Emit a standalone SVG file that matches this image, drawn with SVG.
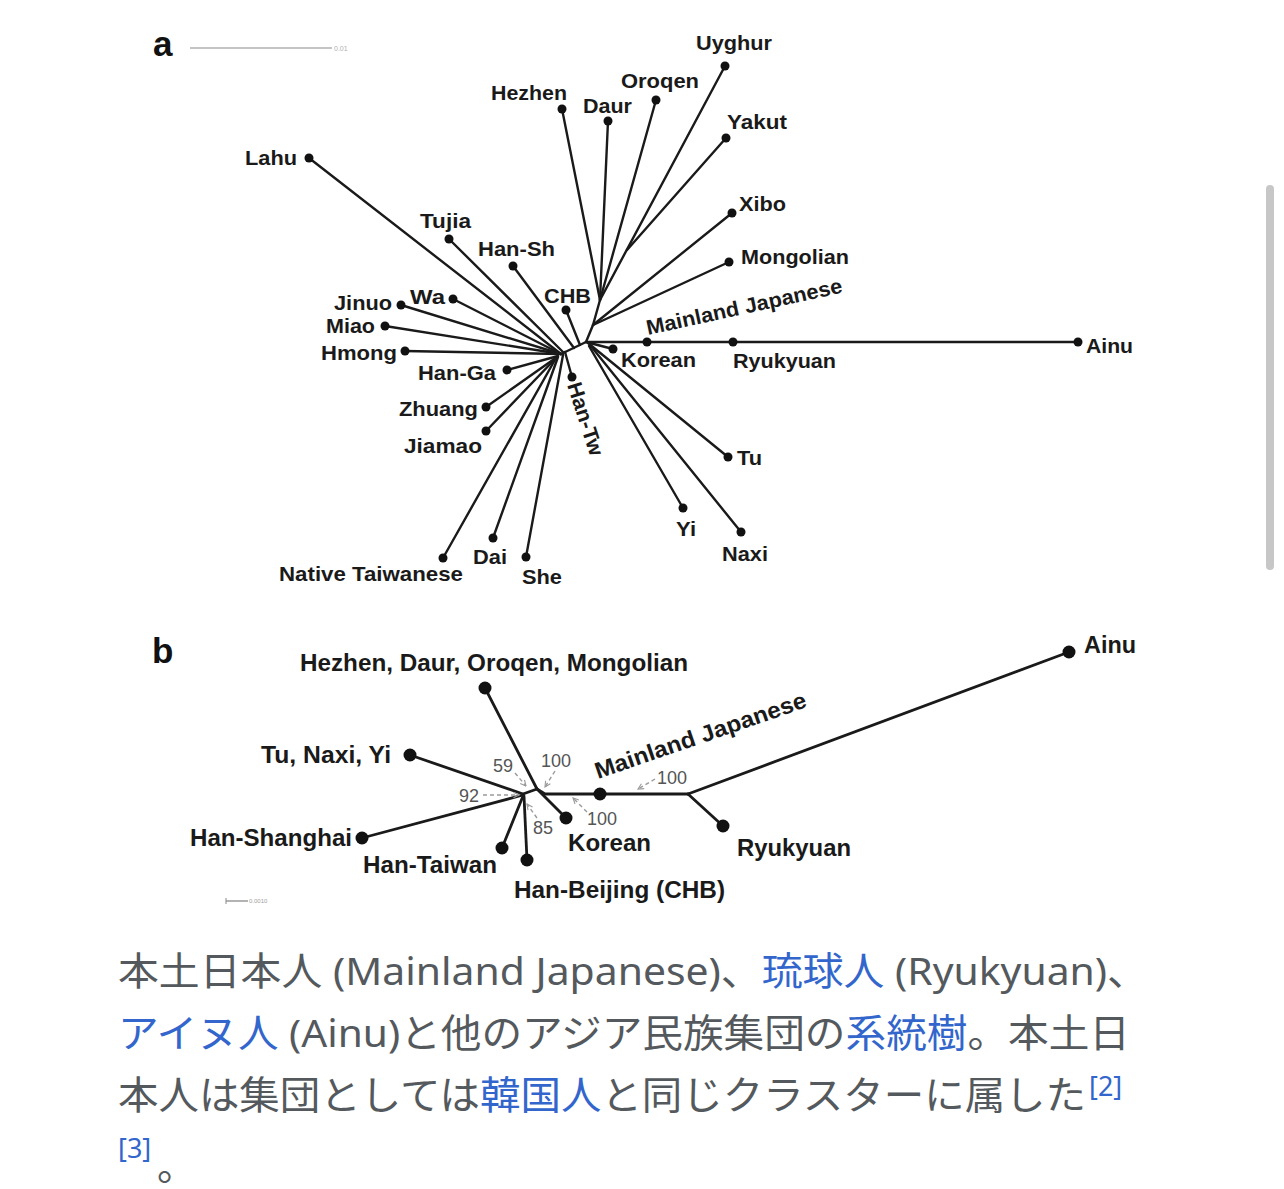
<svg xmlns="http://www.w3.org/2000/svg" width="1284" height="1189" viewBox="0 0 1284 1189">
<defs>
<style>
.ln{stroke:#1a1a1a;stroke-width:2.4;fill:none;stroke-linejoin:round;stroke-linecap:round}
.lnb{stroke:#1a1a1a;stroke-width:2.8;fill:none;stroke-linejoin:round;stroke-linecap:round}
.da{fill:#111}
.ta{font-family:"Liberation Sans",Arial,sans-serif;font-weight:bold;font-size:21px;fill:#1a1a1a}
.tb{font-family:"Liberation Sans",Arial,sans-serif;font-weight:bold;font-size:23px;fill:#1a1a1a}
.bs{font-family:"Liberation Sans",Arial,sans-serif;font-size:18px;fill:#555}
.ar{stroke:#9a9a9a;stroke-width:1.4;stroke-dasharray:4 3;fill:none}
.pl{font-family:"Liberation Sans",Arial,sans-serif;font-weight:bold;font-size:35px;fill:#111}
.cap{font-family:"Noto Sans","Noto Sans CJK JP",sans-serif;font-size:39px;fill:#54595d}
.lk{fill:#3366cc}
</style>
<marker id="ah" viewBox="0 0 10 10" refX="9" refY="5" markerWidth="7" markerHeight="7" orient="auto" markerUnits="userSpaceOnUse">
<path d="M1,1 L9,5 L1,9" fill="none" stroke="#9a9a9a" stroke-width="1.6"/>
</marker>
</defs>
<rect width="1284" height="1189" fill="#ffffff"/>
<rect x="1266" y="185" width="8" height="385" rx="4" fill="#c7c7c7"/>

<!-- Panel a -->
<text class="pl" x="153" y="56">a</text>
<g id="scale-a">
<line x1="190" y1="48" x2="332" y2="48" stroke="#c4c4c4" stroke-width="2"/>
<text x="334" y="51" font-family="Liberation Sans,Arial,sans-serif" font-size="7" fill="#b0b0b0">0.01</text>
</g>

<g id="connectors-a">
<path class="ln" d="M561,354 L586,342"/>
<path class="ln" d="M309,158 L561,354"/>
<path class="ln" d="M449,239 L563,352"/>
<path class="ln" d="M513,266 L574,348"/>
<path class="ln" d="M566,310 L580,345"/>
<path class="ln" d="M453,299 L561,354"/>
<path class="ln" d="M401,305 L561,354"/>
<path class="ln" d="M385,326 L561,354"/>
<path class="ln" d="M405,351 L561,354"/>
<path class="ln" d="M507,370 L558,356"/>
<path class="ln" d="M486,407 L557,357"/>
<path class="ln" d="M486,431 L556,358"/>
<path class="ln" d="M443,558 L556,358"/>
<path class="ln" d="M493,538 L558,357"/>
<path class="ln" d="M526,557 L563,355"/>
<path class="ln" d="M572,377 L565,352"/>
<path class="ln" d="M613,349 L586,342"/>
<path class="ln" d="M586,342 L1078,342"/>
<path class="ln" d="M728,457 L588,343"/>
<path class="ln" d="M683,508 L589,346"/>
<path class="ln" d="M741,532 L590,345"/>
<path class="ln" d="M586,342 L593,325 L600,300"/>
<path class="ln" d="M729,262 L593,325"/>
<path class="ln" d="M732,213 L593,325"/>
<path class="ln" d="M562,109 L600,300"/>
<path class="ln" d="M608,121 L600,300"/>
<path class="ln" d="M656,100 L600,300"/>
<path class="ln" d="M725,66 L600,300"/>
<path class="ln" d="M726,138 L627,250"/>
</g>

<g id="a-lahu"><circle class="da" cx="309" cy="158" r="4.5"/><text class="ta" x="245" y="165" textLength="52" lengthAdjust="spacingAndGlyphs">Lahu</text></g>
<g id="a-tujia"><circle class="da" cx="449" cy="239" r="4.5"/><text class="ta" x="420" y="228" textLength="51" lengthAdjust="spacingAndGlyphs">Tujia</text></g>
<g id="a-hansh"><circle class="da" cx="513" cy="266" r="4.5"/><text class="ta" x="478" y="256" textLength="77" lengthAdjust="spacingAndGlyphs">Han-Sh</text></g>
<g id="a-chb"><circle class="da" cx="566" cy="310" r="4.5"/><text class="ta" x="544" y="303" textLength="47" lengthAdjust="spacingAndGlyphs">CHB</text></g>
<g id="a-wa"><circle class="da" cx="453" cy="299" r="4.5"/><text class="ta" x="410" y="304" textLength="35" lengthAdjust="spacingAndGlyphs">Wa</text></g>
<g id="a-jinuo"><circle class="da" cx="401" cy="305" r="4.5"/><text class="ta" x="334" y="310" textLength="58" lengthAdjust="spacingAndGlyphs">Jinuo</text></g>
<g id="a-miao"><circle class="da" cx="385" cy="326" r="4.5"/><text class="ta" x="326" y="333" textLength="49" lengthAdjust="spacingAndGlyphs">Miao</text></g>
<g id="a-hmong"><circle class="da" cx="405" cy="351" r="4.5"/><text class="ta" x="321" y="360" textLength="76" lengthAdjust="spacingAndGlyphs">Hmong</text></g>
<g id="a-hanga"><circle class="da" cx="507" cy="370" r="4.5"/><text class="ta" x="418" y="380" textLength="78" lengthAdjust="spacingAndGlyphs">Han-Ga</text></g>
<g id="a-zhuang"><circle class="da" cx="486" cy="407" r="4.5"/><text class="ta" x="399" y="416" textLength="79" lengthAdjust="spacingAndGlyphs">Zhuang</text></g>
<g id="a-jiamao"><circle class="da" cx="486" cy="431" r="4.5"/><text class="ta" x="404" y="453" textLength="78" lengthAdjust="spacingAndGlyphs">Jiamao</text></g>
<g id="a-nativetw"><circle class="da" cx="443" cy="558" r="4.5"/><text class="ta" x="279" y="581" textLength="184" lengthAdjust="spacingAndGlyphs">Native Taiwanese</text></g>
<g id="a-dai"><circle class="da" cx="493" cy="538" r="4.5"/><text class="ta" x="473" y="564" textLength="34" lengthAdjust="spacingAndGlyphs">Dai</text></g>
<g id="a-she"><circle class="da" cx="526" cy="557" r="4.5"/><text class="ta" x="522" y="584" textLength="40" lengthAdjust="spacingAndGlyphs">She</text></g>
<g id="a-hantw"><circle class="da" cx="572" cy="377" r="4.5"/><text class="ta" transform="translate(567,385) rotate(72)" x="0" y="0" textLength="76" lengthAdjust="spacingAndGlyphs">Han-Tw</text></g>
<g id="a-tu"><circle class="da" cx="728" cy="457" r="4.5"/><text class="ta" x="737" y="465" textLength="25" lengthAdjust="spacingAndGlyphs">Tu</text></g>
<g id="a-yi"><circle class="da" cx="683" cy="508" r="4.5"/><text class="ta" x="676" y="536" textLength="20" lengthAdjust="spacingAndGlyphs">Yi</text></g>
<g id="a-naxi"><circle class="da" cx="741" cy="532" r="4.5"/><text class="ta" x="722" y="561" textLength="46" lengthAdjust="spacingAndGlyphs">Naxi</text></g>
<g id="a-korean"><circle class="da" cx="613" cy="349" r="4.5"/><text class="ta" x="621" y="367" textLength="75" lengthAdjust="spacingAndGlyphs">Korean</text></g>
<g id="a-mainjp"><circle class="da" cx="647" cy="342" r="4.5"/><text class="ta" transform="translate(648,335) rotate(-12.3)" x="0" y="0" textLength="200" lengthAdjust="spacingAndGlyphs">Mainland Japanese</text></g>
<g id="a-ryukyuan"><circle class="da" cx="733" cy="342" r="4.5"/><text class="ta" x="733" y="368" textLength="103" lengthAdjust="spacingAndGlyphs">Ryukyuan</text></g>
<g id="a-ainu"><circle class="da" cx="1078" cy="342" r="4.5"/><text class="ta" x="1086" y="353" textLength="47" lengthAdjust="spacingAndGlyphs">Ainu</text></g>
<g id="a-mongolian"><circle class="da" cx="729" cy="262" r="4.5"/><text class="ta" x="741" y="264" textLength="108" lengthAdjust="spacingAndGlyphs">Mongolian</text></g>
<g id="a-xibo"><circle class="da" cx="732" cy="213" r="4.5"/><text class="ta" x="739" y="211" textLength="47" lengthAdjust="spacingAndGlyphs">Xibo</text></g>
<g id="a-yakut"><circle class="da" cx="726" cy="138" r="4.5"/><text class="ta" x="727" y="129" textLength="60" lengthAdjust="spacingAndGlyphs">Yakut</text></g>
<g id="a-uyghur"><circle class="da" cx="725" cy="66" r="4.5"/><text class="ta" x="696" y="50" textLength="76" lengthAdjust="spacingAndGlyphs">Uyghur</text></g>
<g id="a-oroqen"><circle class="da" cx="656" cy="100" r="4.5"/><text class="ta" x="621" y="88" textLength="78" lengthAdjust="spacingAndGlyphs">Oroqen</text></g>
<g id="a-daur"><circle class="da" cx="608" cy="121" r="4.5"/><text class="ta" x="583" y="113" textLength="49" lengthAdjust="spacingAndGlyphs">Daur</text></g>
<g id="a-hezhen"><circle class="da" cx="562" cy="109" r="4.5"/><text class="ta" x="491" y="100" textLength="76" lengthAdjust="spacingAndGlyphs">Hezhen</text></g>

<!-- Panel b -->
<text class="pl" x="152" y="663">b</text>
<g id="scale-b">
<line x1="226" y1="901" x2="248" y2="901" stroke="#8a8a8a" stroke-width="1.3"/>
<line x1="226" y1="898" x2="226" y2="904" stroke="#8a8a8a" stroke-width="1"/>
<text x="249" y="903" font-family="Liberation Sans,Arial,sans-serif" font-size="6" fill="#a0a0a0">0.0010</text>
</g>

<g id="connectors-b">
<path class="lnb" d="M523,794 L537,789"/>
<path class="lnb" d="M485,688 L537,789"/>
<path class="lnb" d="M566,818 L537,789"/>
<path class="lnb" d="M537,789 L545,794 L688,794"/>
<path class="lnb" d="M688,794 L1069,652"/>
<path class="lnb" d="M688,794 L723,826"/>
<path class="lnb" d="M410,755 L523,794"/>
<path class="lnb" d="M362,838 L523,795"/>
<path class="lnb" d="M502,848 L523,796"/>
<path class="lnb" d="M527,860 L524,796"/>
</g>

<g id="bootstrap">
<text class="bs" x="493" y="772">59</text>
<path class="ar" d="M515,773 L526,786" marker-end="url(#ah)"/>
<text class="bs" x="541" y="767">100</text>
<path class="ar" d="M555,771 L545,787" marker-end="url(#ah)"/>
<text class="bs" x="459" y="802">92</text>
<path class="ar" d="M483,795 L519,795" marker-end="url(#ah)"/>
<text class="bs" x="533" y="834">85</text>
<path class="ar" d="M537,818 L527,804" marker-end="url(#ah)"/>
<text class="bs" x="587" y="825">100</text>
<path class="ar" d="M587,812 L573,798" marker-end="url(#ah)"/>
<text class="bs" x="657" y="784">100</text>
<path class="ar" d="M655,779 L638,789" marker-end="url(#ah)"/>
</g>

<g id="b-northern"><circle class="da" cx="485" cy="688" r="6.5"/><text class="tb" x="300" y="671" textLength="388" lengthAdjust="spacingAndGlyphs">Hezhen, Daur, Oroqen, Mongolian</text></g>
<g id="b-tunaxiyi"><circle class="da" cx="410" cy="755" r="6.5"/><text class="tb" x="261" y="763" textLength="130" lengthAdjust="spacingAndGlyphs">Tu, Naxi, Yi</text></g>
<g id="b-hanshanghai"><circle class="da" cx="362" cy="838" r="6.5"/><text class="tb" x="190" y="846" textLength="162" lengthAdjust="spacingAndGlyphs">Han-Shanghai</text></g>
<g id="b-hantaiwan"><circle class="da" cx="502" cy="848" r="6.5"/><text class="tb" x="363" y="873" textLength="134" lengthAdjust="spacingAndGlyphs">Han-Taiwan</text></g>
<g id="b-hanbeijing"><circle class="da" cx="527" cy="860" r="6.5"/><text class="tb" x="514" y="898" textLength="211" lengthAdjust="spacingAndGlyphs">Han-Beijing (CHB)</text></g>
<g id="b-korean"><circle class="da" cx="566" cy="818" r="6.5"/><text class="tb" x="568" y="851" textLength="83" lengthAdjust="spacingAndGlyphs">Korean</text></g>
<g id="b-mainjp"><circle class="da" cx="600" cy="794" r="6.5"/><text class="tb" transform="translate(598,779) rotate(-19)" x="0" y="0" textLength="222" lengthAdjust="spacingAndGlyphs">Mainland Japanese</text></g>
<g id="b-ryukyuan"><circle class="da" cx="723" cy="826" r="6.5"/><text class="tb" x="737" y="856" textLength="114" lengthAdjust="spacingAndGlyphs">Ryukyuan</text></g>
<g id="b-ainu"><circle class="da" cx="1069" cy="652" r="6.5"/><text class="tb" x="1084" y="653" textLength="52" lengthAdjust="spacingAndGlyphs">Ainu</text></g>

<!-- Caption -->
<g id="caption">
<text class="cap" x="118" y="985" textLength="1030" lengthAdjust="spacingAndGlyphs">本土日本人 (Mainland Japanese)、<tspan class="lk">琉球人</tspan> (Ryukyuan)、</text>
<text class="cap" x="118" y="1047" textLength="1012" lengthAdjust="spacingAndGlyphs"><tspan class="lk">アイヌ人</tspan> (Ainu)と他のアジア民族集団の<tspan class="lk">系統樹</tspan>。本土日</text>
<text class="cap" x="118" y="1109" textLength="968" lengthAdjust="spacingAndGlyphs">本人は集団としては<tspan class="lk">韓国人</tspan>と同じクラスターに属した</text>
<text class="cap lk" x="1089" y="1096" font-size="27" style="font-size:27px">[2]</text>
<text class="cap lk" x="118" y="1158" style="font-size:27px">[3]</text>
<text class="cap" x="157" y="1180">。</text>
</g>
</svg>
